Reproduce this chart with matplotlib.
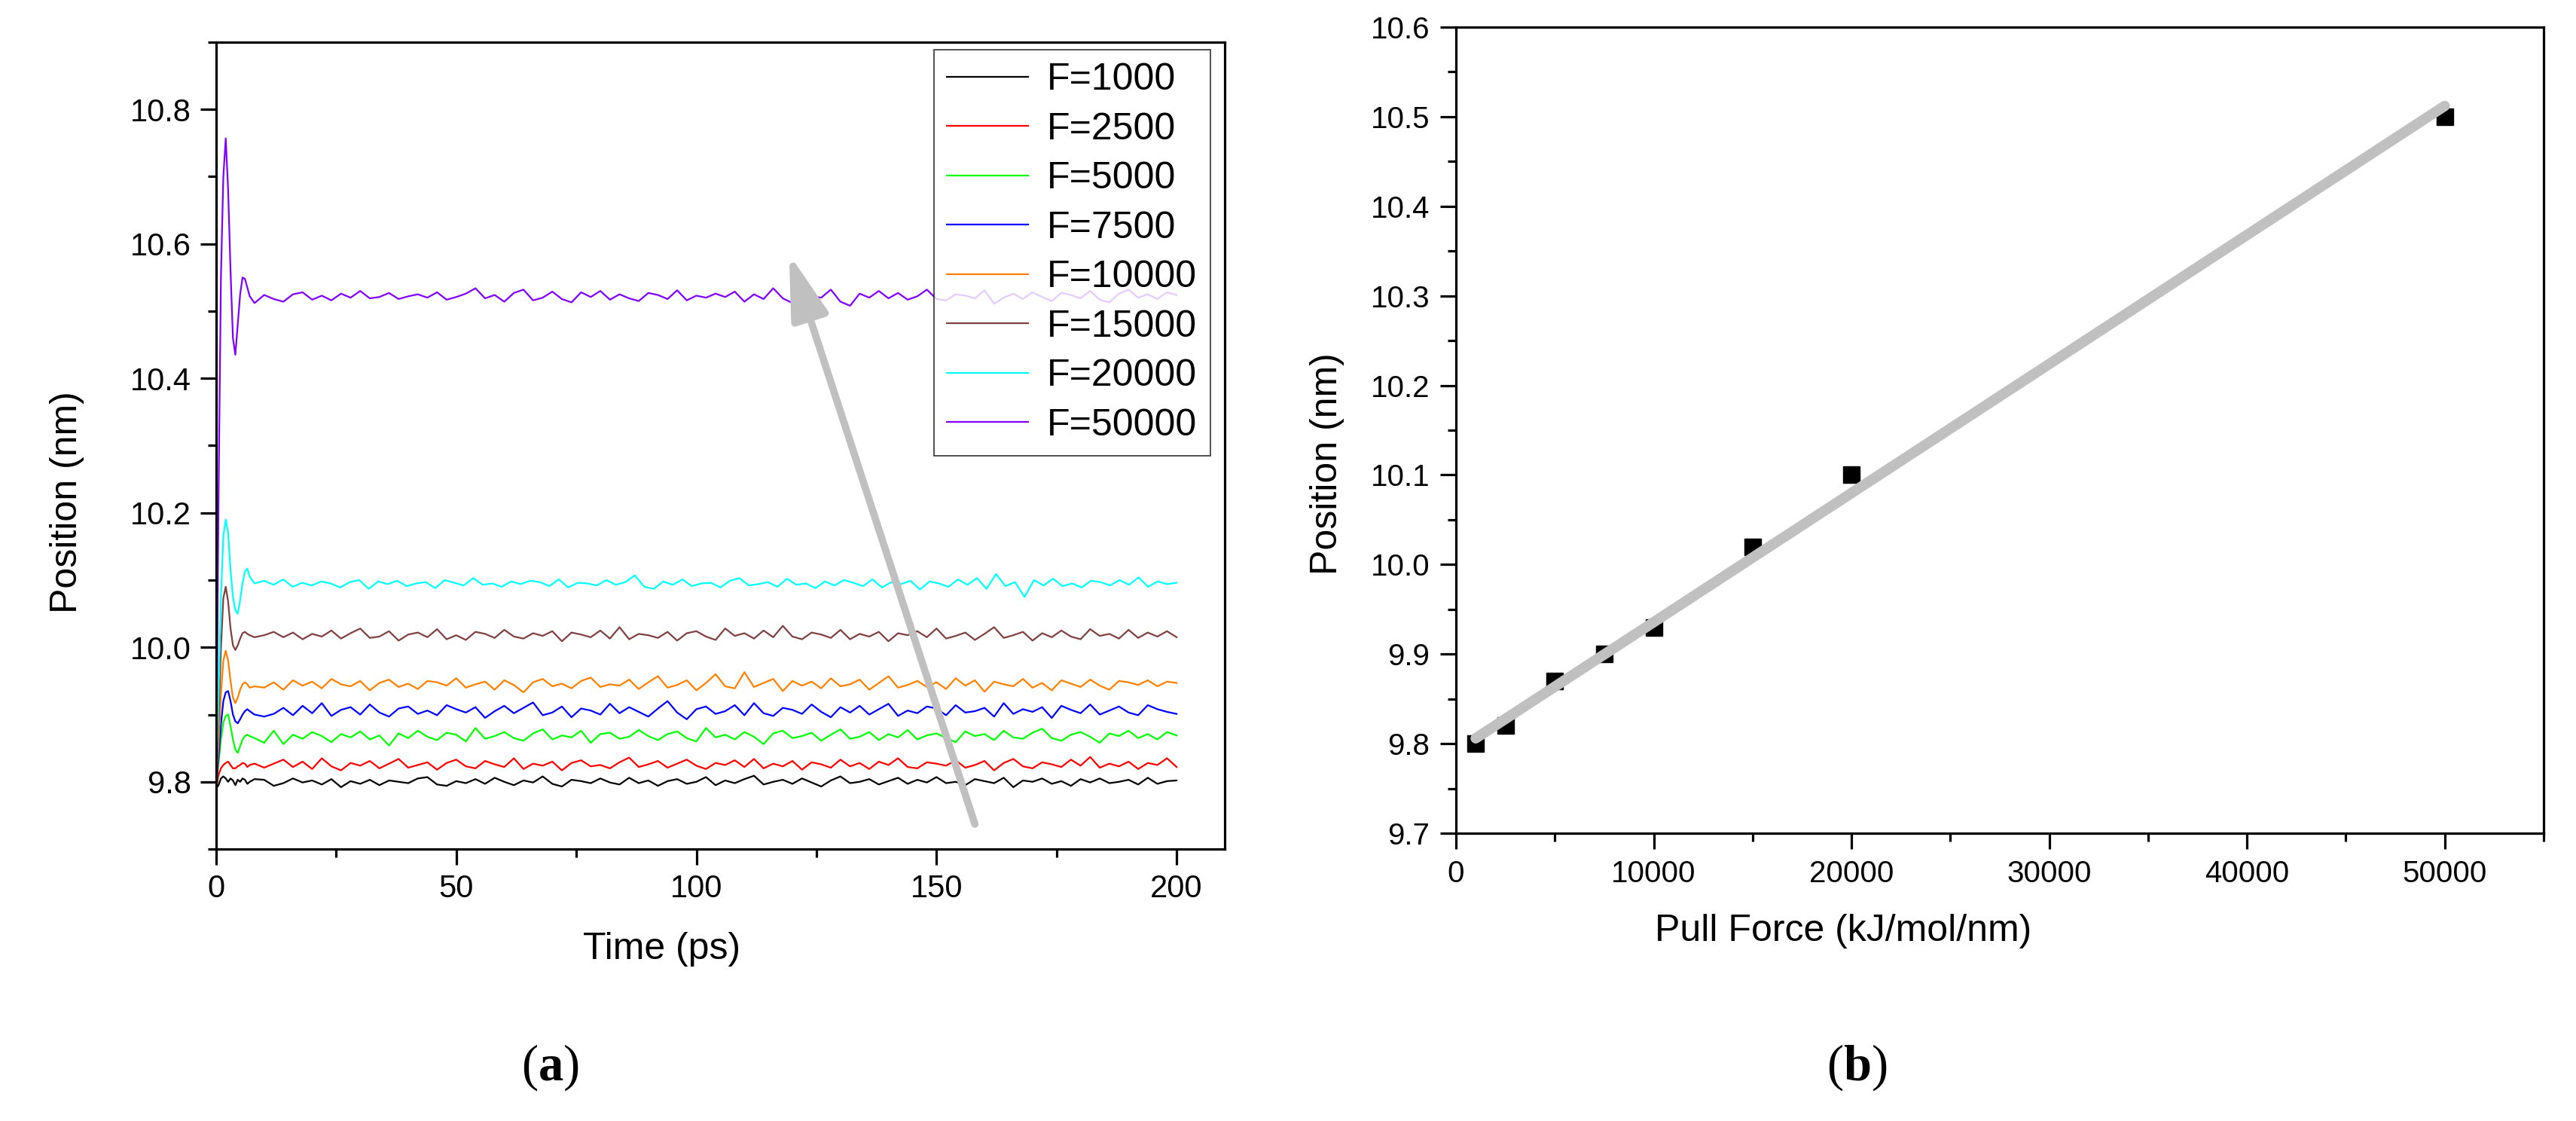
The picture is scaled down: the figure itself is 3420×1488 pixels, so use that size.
import numpy as np
import matplotlib
matplotlib.use("Agg")
import matplotlib.pyplot as plt

plt.rcParams['font.family'] = ['Liberation Sans', 'DejaVu Sans']
plt.rcParams['mathtext.fontset'] = 'custom'
plt.rcParams['mathtext.rm'] = 'Liberation Serif'
plt.rcParams['mathtext.bf'] = 'Liberation Serif:bold'

# ---------------- data: panel (a) ----------------
labels = ["F=1000", "F=2500", "F=5000", "F=7500", "F=10000", "F=15000", "F=20000", "F=50000"]
colors = ["#000000", "#ff0000", "#00ff00", "#0000ff", "#ff8000", "#804040", "#00ffff", "#8000ff"]
base = [9.800, 9.825, 9.868, 9.905, 9.945, 10.018, 10.095, 10.522]

# start-up transient (ps) and deviations from base (1/1000 nm)
t_start = [0, 0.5, 1, 1.5, 2, 2.5, 3, 3.5, 4, 4.5, 5, 5.5, 6, 6.5, 7, 8]
trans = [
    [-10, -5, 5, 8, 5, 0, 5, 2, -5, 3, 0, 5, 3, -3, 0, 4],
    [-35, -15, -5, 0, 3, 5, 0, -5, -5, -2, 0, 3, 2, -3, 0, 2],
    [-78, -40, -5, 20, 30, 32, 15, -5, -20, -25, -15, -5, 0, 2, 0, -3],
    [-115, -70, -20, 15, 28, 30, 15, -5, -15, -18, -12, -5, 0, 3, 0, -5],
    [-155, -90, -15, 35, 50, 35, 5, -20, -28, -20, -8, 0, 3, 0, -5, -3],
    [-228, -130, -20, 55, 72, 50, 10, -15, -22, -15, -5, 3, 5, 2, 0, -3],
    [-305, -170, -20, 70, 95, 75, 20, -20, -40, -45, -25, 0, 18, 22, 10, 0],
    [-732, -302, 28, 178, 235, 158, 38, -62, -87, -42, 3, 28, 26, 13, 0, -10],
]
# steady part, 10..200 ps, deviations from base (1/1000 nm)
dev_1000 = [3,-6,-2,5,-1,2,-4,4,-8,1,-3,3,-5,2,0,-2,5,7,-4,-6,1,-2,4,-3,6,0,-5,2,-1,8,-3,-7,3,1,-2,5,-1,-4,6,-2,2,-6,1,4,-3,0,7,-5,2,-2,4,9,-4,0,3,-3,5,-1,-7,2,8,-2,0,4,-4,1,6,-3,3,-1,7,-2,0,-5,4,1,-2,6,-8,2,0,5,-3,1,-6,4,-1,5,-2,0,3,-4,6,-3,1,2]
dev_2500 = [-4,2,8,-3,5,-6,10,-2,-8,3,-1,6,-5,2,9,-4,0,4,-7,3,8,-2,-5,6,1,-3,10,-6,2,-1,5,-8,3,7,-2,0,-5,4,11,-3,1,6,-4,2,8,-1,-6,3,0,7,-3,9,-5,2,-2,6,-7,4,1,-4,8,-2,3,-6,5,0,10,-3,-5,4,2,-1,7,-4,0,6,-8,3,9,-2,-5,4,1,-3,8,-1,12,-4,2,-2,5,-6,3,0,10,-3]
dev_5000 = [-10,8,-12,2,-4,6,0,-9,3,-2,7,-5,1,-14,4,-3,8,-1,-6,5,2,-8,12,-4,0,6,-3,-7,4,10,-5,1,-2,8,-10,3,5,-4,-1,9,0,-6,3,7,-3,-8,12,-2,2,-5,6,-1,-12,4,8,-3,0,5,-7,2,10,-4,-1,6,-6,3,-2,9,-5,1,4,-3,-9,7,0,3,-6,8,-2,-4,5,11,-3,-7,2,6,-1,-10,4,0,8,-3,3,-5,6,1]
dev_7500 = [-8,-4,5,-6,8,-3,12,-7,2,6,-5,10,-2,-8,4,7,-4,1,-6,9,3,-2,6,-10,0,8,-3,5,13,-6,-2,7,-9,4,1,-5,11,-3,6,-1,-8,4,15,-2,-12,3,7,-4,0,9,-6,12,-3,-7,5,2,-4,10,-1,-9,6,-2,8,-5,3,11,-7,1,-3,7,4,-6,9,-2,0,5,-8,12,-4,3,-1,6,-10,8,2,-3,10,-5,1,7,-2,-6,9,3,-1,-4]
dev_10000 = [-5,3,-8,6,-2,4,-6,8,0,-3,5,-9,2,7,-4,1,-7,5,3,-2,9,-5,0,4,-8,6,-1,-12,3,8,-3,1,-6,5,10,-4,0,-2,7,-7,3,12,-5,-1,6,-9,2,15,-3,-6,18,-4,2,8,-10,5,-2,4,-6,9,-3,0,7,-8,2,12,-5,-1,5,-4,3,-7,9,-2,6,-11,4,0,-3,8,-5,2,-9,6,1,-4,7,-2,-8,5,3,-1,6,-3,4,2]
dev_15000 = [0,5,-3,4,-6,2,-2,7,-5,3,10,-4,-2,6,-8,1,4,-3,9,-6,0,-7,5,2,-4,8,-2,-5,3,-1,6,-9,4,1,-3,7,-5,12,-6,2,0,-4,5,-8,3,6,-2,-7,10,-1,3,-5,7,-3,14,-2,-6,4,1,-4,8,-6,2,-2,5,-9,3,0,6,-3,10,-5,-1,4,-7,2,12,-4,0,5,-8,3,-3,7,-2,-6,9,-1,2,-5,8,-4,4,-2,6,-3]
dev_20000 = [4,-2,6,-5,1,-3,3,0,-6,2,5,-8,3,-1,4,-4,0,2,-7,5,1,-3,8,-2,0,-5,3,-1,4,2,-4,6,-6,1,0,-3,5,-2,2,12,-5,-8,3,-2,6,-4,0,1,-6,4,8,-3,-1,2,-5,7,-2,0,-7,3,-3,5,1,-4,6,-6,2,-1,4,-9,3,0,-5,6,-2,8,-8,14,-4,2,-20,5,-3,7,-4,0,-6,4,2,-3,5,-2,9,-5,3,-1,1]
dev_50000 = [2,-4,-8,3,6,-5,1,-6,4,-2,8,-3,-1,5,-4,0,3,-2,6,-5,-1,4,12,-3,2,-8,5,10,-6,-2,7,-4,-9,6,-1,8,-5,3,-3,-7,5,2,-4,9,-6,1,-2,4,-1,7,-8,3,-4,12,-3,-10,6,0,-2,10,-8,-14,4,-2,8,-3,5,-5,0,10,-4,-6,3,1,-3,9,-11,-2,4,-4,6,-1,-7,5,2,-3,8,-5,-9,4,10,-2,3,-4,6,2]
steady = [dev_1000, dev_2500, dev_5000, dev_7500, dev_10000, dev_15000, dev_20000, dev_50000]
t_end = 200

arrow_tail = [158, 9.737]
arrow_head = [119.3, 10.585]

# ---------------- data: panel (b) ----------------
force = [1000, 2500, 5000, 7500, 10000, 15000, 20000, 50000]
position = [9.80, 9.82, 9.87, 9.90, 9.93, 10.02, 10.10, 10.50]
fit_x = [1000, 50000]
fit_y = [9.806, 10.512]

# ---------------- figure ----------------
fig = plt.figure(figsize=(34.2, 14.88), dpi=100)
ax1 = fig.add_axes([0.0839, 0.2426, 0.3915, 0.7198])
ax2 = fig.add_axes([0.5652, 0.2567, 0.4222, 0.7191])

TICK_FS = 30
LABEL_FS = 36

def style(ax):
    for s in ax.spines.values():
        s.set_linewidth(2.3)
    ax.tick_params(which='both', direction='out', top=False, right=False,
                   width=2.3, labelsize=TICK_FS, pad=9)
    ax.tick_params(which='major', length=15)
    ax.tick_params(which='minor', length=8)

for i in range(len(labels)):
    t_st = np.linspace(10, t_end, len(steady[i]))
    tt = np.concatenate([t_start, t_st])
    yy = base[i] + np.array(trans[i] + steady[i]) / 1000.0
    ax1.plot(tt, yy, color=colors[i], lw=1.6, label=labels[i])

ax1.set_xlim(0, 210)
ax1.set_ylim(9.7, 10.9)
ax1.set_xticks([0, 50, 100, 150, 200])
ax1.set_xticks([25, 75, 125, 175], minor=True)
ax1.set_yticks([9.8, 10.0, 10.2, 10.4, 10.6, 10.8])
ax1.set_yticklabels(["9.8", "10.0", "10.2", "10.4", "10.6", "10.8"])
ax1.set_yticks([9.7, 9.9, 10.1, 10.3, 10.5, 10.7, 10.9], minor=True)
style(ax1)
ax1.set_xlabel("Time (ps)", fontsize=LABEL_FS)
ax1.set_ylabel("Position (nm)", fontsize=LABEL_FS)
ax1.xaxis.set_label_coords(0.442, -0.103)
ax1.yaxis.set_label_coords(-0.131, 0.43)

leg = ax1.legend(loc='upper right', bbox_to_anchor=(0.9858, 0.9907), borderaxespad=0,
                 fontsize=36, frameon=True, fancybox=False, edgecolor='black',
                 borderpad=0.35, handlelength=2.16, handletextpad=0.5,
                 labelspacing=0.39)
leg.get_frame().set_linewidth(1.2)

ax1.annotate('', xy=tuple(arrow_head), xytext=tuple(arrow_tail),
             arrowprops=dict(arrowstyle='-|>,head_length=1.3,head_width=0.38',
                             lw=7, color='#c0c0c0', mutation_scale=40,
                             shrinkA=0, shrinkB=0, capstyle='round'),
             zorder=5)

# panel (b)
ax2.plot(force, position, 's', color='black', ms=16, mew=1, zorder=2)
ax2.plot(fit_x, fit_y, color='#c0c0c0', lw=10, solid_capstyle='round', zorder=3)
ax2.set_xlim(0, 55000)
ax2.set_ylim(9.7, 10.6)
ax2.set_xticks([0, 10000, 20000, 30000, 40000, 50000])
ax2.set_xticklabels(["0", "10000", "20000", "30000", "40000", "50000"])
ax2.set_xticks([5000, 15000, 25000, 35000, 45000, 55000], minor=True)
yt = [9.7, 9.8, 9.9, 10.0, 10.1, 10.2, 10.3, 10.4, 10.5, 10.6]
ax2.set_yticks(yt)
ax2.set_yticklabels(["%.1f" % v for v in yt])
ax2.set_yticks([9.75, 9.85, 9.95, 10.05, 10.15, 10.25, 10.35, 10.45, 10.55], minor=True)
style(ax2)
ax2.tick_params(which='both', labelsize=29, pad=10)
ax2.set_xlabel("Pull Force (kJ/mol/nm)", fontsize=LABEL_FS)
ax2.set_ylabel("Position (nm)", fontsize=LABEL_FS)
ax2.xaxis.set_label_coords(0.356, -0.10)
ax2.yaxis.set_label_coords(-0.1025, 0.458)

fig.text(0.2137, 0.0477, r'($\mathbf{a}$)', fontsize=48, family='Liberation Serif',
         ha='center', va='center')
fig.text(0.7207, 0.0477, r'($\mathbf{b}$)', fontsize=48, family='Liberation Serif',
         ha='center', va='center')

fig.savefig("out.png", dpi=100, facecolor='white')
